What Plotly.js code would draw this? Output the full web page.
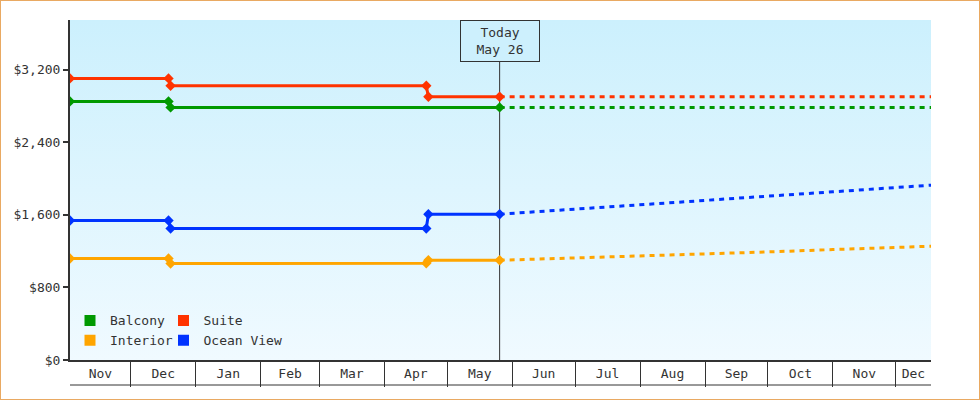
<!DOCTYPE html>
<html>
<head>
<meta charset="utf-8">
<script src="https://cdn.plot.ly/plotly-3.0.1.min.js"></script>
<style>
  body { margin: 0; background: #fff; }
  #wrap { position: relative; width: 980px; height: 400px; }
  #chart { width: 980px; height: 400px; }
  #frame { position: absolute; left: 0; top: 0; width: 978px; height: 398px;
           border: 1px solid #e9a962; pointer-events: none; }
</style>
</head>
<body>
<div id="wrap"><div id="chart"></div><div id="frame"></div></div>
<script>
var xRange = ['2022-11-02', '2023-12-17 20:00'];
var monthLabels = ['Nov', 'Dec', 'Jan', 'Feb', 'Mar', 'Apr', 'May', 'Jun', 'Jul', 'Aug', 'Sep', 'Oct', 'Nov', 'Dec'];
var yTicks = [0, 800, 1600, 2400, 3200];
var today = '2023-05-26';
var todayText = 'Today<br>May 26';

// price history (solid)
var balconyDates = ['2022-11-02', '2022-12-19', '2022-12-20', '2023-05-26'];
var balconyPrices = [2852, 2852, 2786, 2786];
var stepDates = ['2022-11-02', '2022-12-19', '2022-12-20', '2023-04-21', '2023-04-22', '2023-05-26'];
var suitePrices = [3106, 3106, 3024, 3024, 2903, 2903];
var oceanPrices = [1539, 1539, 1450, 1450, 1608, 1608];
var interiorPrices = [1119, 1119, 1064, 1067, 1100, 1100];

// forecast (dotted)
var forecastDates = ['2023-05-26', '2023-06-01', '2023-07-01', '2023-08-01', '2023-09-01',
                     '2023-10-01', '2023-11-01', '2023-12-01', '2023-12-18'];
var balconyForecast = [2786, 2786, 2786, 2786, 2786, 2786, 2786, 2786, 2786];
var suiteForecast = [2903, 2903, 2903, 2903, 2903, 2903, 2903, 2903, 2903];
var oceanForecast = [1608, 1617, 1664, 1712, 1760, 1807, 1855, 1902, 1928];
var interiorForecast = [1100, 1104, 1124, 1146, 1170, 1192, 1218, 1243, 1255];

var font = { family: 'DejaVu Sans Mono, monospace', size: 13, color: '#333' };

function toMs(s) {
  return s.length > 10 ? Date.parse(s.replace(' ', 'T') + 'Z') : Date.parse(s);
}
function fmt(ms) {
  return new Date(ms).toISOString().slice(0, 19).replace('T', ' ');
}

// month dividers and labels centred in the visible part of each month
var r0 = toMs(xRange[0]), r1 = toMs(xRange[1]);
var monthStarts = [], labelPos = [];
for (var i = 0; i < monthLabels.length; i++) {
  var a = Date.UTC(2022, 10 + i, 1), b = Date.UTC(2022, 11 + i, 1);
  if (i > 0) monthStarts.push(fmt(a));
  labelPos.push(fmt((Math.max(a, r0) + Math.min(b, r1)) / 2));
}
var yLabels = yTicks.map(function (v) { return '$' + v.toLocaleString('en-US'); });

function history(name, x, y, color) {
  return {
    x: x, y: y, name: name, legendgroup: name, showlegend: false,
    type: 'scatter', mode: 'lines+markers',
    line: { color: color, width: 3 },
    marker: { symbol: 'diamond', size: 8, color: color },
    hoverinfo: 'x+y'
  };
}
function forecast(name, x, y, color) {
  return {
    x: x, y: y, name: name, legendgroup: name, showlegend: false,
    type: 'scatter', mode: 'lines',
    line: { color: color, width: 3, dash: '5px,5px' },
    hoverinfo: 'x+y'
  };
}
function swatch(name, color, legend) {
  return {
    x: [null], y: [null], name: name, legendgroup: name, legend: legend,
    type: 'scatter', mode: 'markers',
    marker: { symbol: 'square', size: 11, color: color }
  };
}

var green = '#009900', red = '#ff3300', blue = '#0033ff', orange = '#ffa500';

var data = [
  history('Balcony', balconyDates, balconyPrices, green),
  history('Suite', stepDates, suitePrices, red),
  history('Interior', stepDates, interiorPrices, orange),
  history('Ocean View', stepDates, oceanPrices, blue),
  forecast('Balcony', forecastDates, balconyForecast, green),
  forecast('Suite', forecastDates, suiteForecast, red),
  forecast('Interior', forecastDates, interiorForecast, orange),
  forecast('Ocean View', forecastDates, oceanForecast, blue),
  swatch('Balcony', green, 'legend'),
  swatch('Interior', orange, 'legend'),
  swatch('Suite', red, 'legend2'),
  swatch('Ocean View', blue, 'legend2')
];

var yDom0 = 25 / 365;
var bgSvg = "<svg xmlns='http://www.w3.org/2000/svg' width='10' height='100' preserveAspectRatio='none'>" +
  "<defs><linearGradient id='g' x1='0' y1='0' x2='0' y2='1'>" +
  "<stop offset='0' stop-color='#ccf0fd'/><stop offset='1' stop-color='#f0faff'/>" +
  "</linearGradient></defs><rect width='10' height='100' fill='url(#g)'/></svg>";

var legendBase = {
  orientation: 'v', xanchor: 'left', yanchor: 'top', y: 0.218,
  bgcolor: 'rgba(0,0,0,0)', borderwidth: 0, font: font,
  itemsizing: 'trace', itemclick: 'toggle', tracegroupgap: 0
};

var layout = {
  width: 980, height: 400,
  margin: { l: 70, r: 49, t: 20, b: 15 },
  paper_bgcolor: '#fff',
  plot_bgcolor: 'rgba(0,0,0,0)',
  font: font,
  showlegend: true,
  legend: Object.assign({}, legendBase, { x: 0 }),
  legend2: Object.assign({}, legendBase, { x: 0.1086 }),
  xaxis: {
    type: 'date', range: xRange, fixedrange: true,
    showgrid: false, zeroline: false,
    showline: true, linecolor: '#333', linewidth: 2,
    tickmode: 'array', tickvals: labelPos, ticktext: monthLabels, ticks: '',
    tickfont: font,
    minor: { tickmode: 'array', tickvals: monthStarts, ticks: 'outside',
             ticklen: 25, tickwidth: 1, tickcolor: '#333', showgrid: false }
  },
  yaxis: {
    domain: [yDom0, 1], range: [0, 3750], fixedrange: true,
    showgrid: false, zeroline: false,
    showline: true, linecolor: '#333', linewidth: 2,
    tickmode: 'array', tickvals: yTicks, ticktext: yLabels,
    ticks: 'outside', ticklen: 5, tickwidth: 2, tickcolor: '#333',
    tickfont: font
  },
  images: [{
    source: 'data:image/svg+xml;charset=utf-8,' + encodeURIComponent(bgSvg),
    xref: 'paper', yref: 'paper', x: 0, y: 1, sizex: 1, sizey: 1 - yDom0,
    xanchor: 'left', yanchor: 'top', sizing: 'stretch', layer: 'below'
  }],
  shapes: [
    { type: 'line', xref: 'paper', yref: 'paper', x0: 0, x1: 1, y0: 0, y1: 0,
      line: { color: '#333', width: 1 } },
    { type: 'line', xref: 'x', yref: 'paper', x0: today, x1: today, y0: yDom0, y1: 1,
      line: { color: '#333', width: 1 }, layer: 'below' }
  ],
  annotations: [{
    x: today, xref: 'x', y: 1, yref: 'paper', yanchor: 'top',
    text: todayText, showarrow: false, font: font,
    bgcolor: '#cdf0fd', bordercolor: '#333', borderwidth: 1, borderpad: 0,
    width: 78, height: 40
  }]
};

Plotly.newPlot('chart', data, layout, { displayModeBar: false });
</script>
</body>
</html>
